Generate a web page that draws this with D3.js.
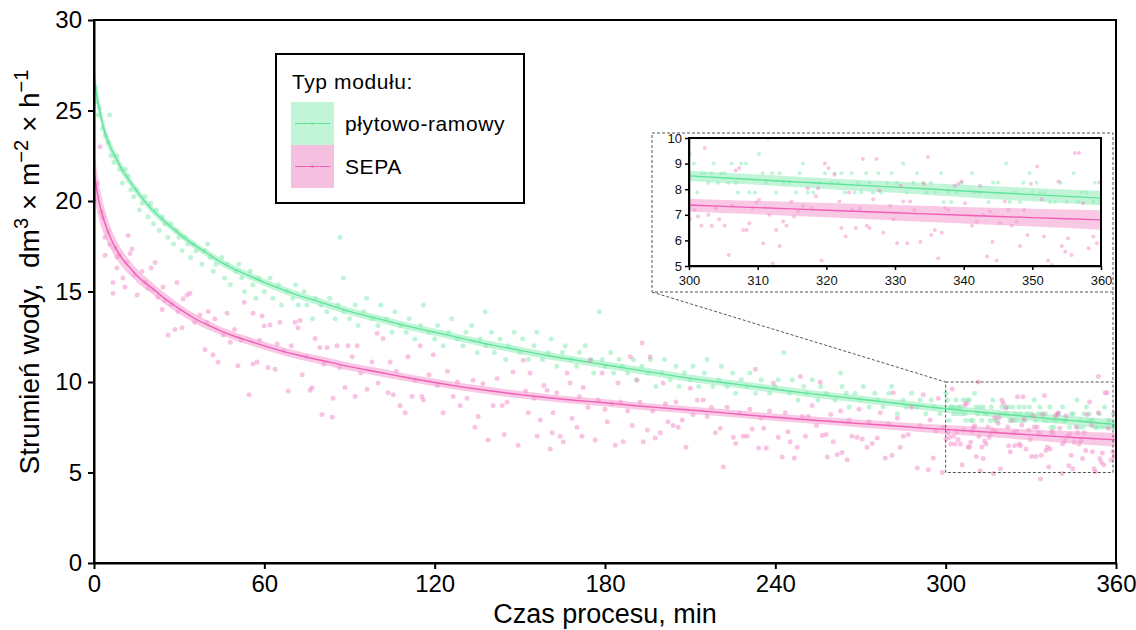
<!DOCTYPE html>
<html>
<head>
<meta charset="utf-8">
<script src="https://cdn.jsdelivr.net/npm/d3@7"></script>
<style>
  body { margin: 0; background: #fff; }
  text { font-family: "Liberation Sans", Arial, sans-serif; }
</style>
</head>
<body>
<div id="chart"></div>
<script>
// ---- data ----
const timeTicks = [0, 60, 120, 180, 240, 300, 360];
const fluxTicks = [0, 5, 10, 15, 20, 25, 30];
const insetTimeTicks = [300, 310, 320, 330, 340, 350, 360];
const insetFluxTicks = [5, 6, 7, 8, 9, 10];
const seriesNames = ["płytowo-ramowy", "SEPA"];

// fitted curves (sampled from the figure)
const fitTime = [0, 1, 2, 3, 4, 6, 8, 10, 13, 16, 20, 25, 30, 35, 40, 45, 50, 55, 60, 70, 80, 90, 100, 110, 120, 130, 140, 150, 160, 170, 180, 190, 200, 210, 220, 230, 240, 250, 260, 270, 280, 290, 300, 310, 320, 330, 340, 350, 360];
const plateFit = [26.9, 25.8, 25.0, 24.3, 23.7, 22.9, 22.3, 21.7, 21.0, 20.35, 19.6, 18.85, 18.2, 17.6, 17.1, 16.6, 16.2, 15.85, 15.5, 14.9, 14.4, 13.9, 13.5, 13.1, 12.75, 12.4, 12.05, 11.75, 11.45, 11.2, 10.95, 10.7, 10.45, 10.2, 10.0, 9.8, 9.6, 9.4, 9.22, 9.05, 8.87, 8.7, 8.52, 8.37, 8.22, 8.08, 7.93, 7.79, 7.65];
const plateBand = [0.7, 0.6, 0.5, 0.45, 0.4, 0.35, 0.3, 0.28, 0.25, 0.23, 0.22, 0.2, 0.2, 0.2, 0.2, 0.2, 0.2, 0.2, 0.2, 0.2, 0.2, 0.2, 0.2, 0.2, 0.2, 0.2, 0.2, 0.2, 0.2, 0.2, 0.2, 0.2, 0.2, 0.2, 0.2, 0.2, 0.2, 0.2, 0.2, 0.2, 0.2, 0.2, 0.2, 0.2, 0.21, 0.22, 0.24, 0.26, 0.28];
const sepaFit = [21.6, 20.6, 19.8, 19.2, 18.7, 17.9, 17.3, 16.8, 16.25, 15.75, 15.25, 14.6, 14.05, 13.55, 13.15, 12.8, 12.5, 12.25, 12.0, 11.55, 11.2, 10.85, 10.55, 10.25, 9.97, 9.72, 9.5, 9.3, 9.13, 8.98, 8.85, 8.7, 8.57, 8.45, 8.32, 8.18, 8.05, 7.93, 7.82, 7.7, 7.6, 7.48, 7.38, 7.28, 7.18, 7.08, 6.98, 6.89, 6.8];
const sepaBand = [1.3, 1.1, 0.95, 0.85, 0.75, 0.6, 0.52, 0.46, 0.4, 0.36, 0.32, 0.3, 0.28, 0.26, 0.25, 0.22, 0.22, 0.22, 0.22, 0.22, 0.22, 0.22, 0.22, 0.21, 0.21, 0.21, 0.21, 0.2, 0.2, 0.2, 0.2, 0.2, 0.2, 0.2, 0.2, 0.2, 0.2, 0.2, 0.2, 0.21, 0.22, 0.23, 0.25, 0.26, 0.28, 0.3, 0.32, 0.35, 0.38];

// measured points [time, flux]
const plateScatter = [
  [0.5,26.25],[1,25.5],[1.5,24.75],[2,25.125],[3,24.0],[4,23.625],[5,23.25],[5.5,24.75],[6,22.5],[7,22.125],[8,22.5],[9,21.75],[10,21.0],[11,21.75],[12,21.375],[13,20.625],[14,20.25],[15,20.625],[16,19.5],[17,19.875],[18,20.25],[19,19.125],[20,19.875],[21,18.75],[22,19.5],[23,18.375],[24,19.125],[25,18.75],[26,18.0],[27,18.75],[28,17.625],[29,18.375],[30,18.0],[31,17.25],[32,18.0],[33,17.625],[34,16.875],[35,17.625],[36,17.25],[38,16.5],[39,17.25],[40,17.625],[41,16.875],[42,16.125],[43,16.5],[45,16.875],[46,15.75],[47,16.5],[48,15.375],[50,16.125],[51,16.5],[52,15.75],[53,15.0],[55,16.125],[56,15.375],[57,14.625],[58,15.75],[60,15.0],[62,15.75],[63,14.625],[65,15.375],[66,14.25],[68,15.0],[70,14.625],[71,15.375],[72,14.25],[74,15.0],[75,14.25],[77,13.5],[78,14.625],[80,14.25],[82,13.875],[83,14.625],[85,13.5],[86,14.25],[86.7,18.0],[87.8,15.75],[88,13.875],[90,13.5],[92,14.25],[93,13.125],[95,13.875],[96,14.625],[98,13.5],[100,13.125],[101,14.25],[103,13.5],[105,12.75],[106,13.875],[108,13.125],[110,12.75],[111,13.5],[113,12.375],[115,13.125],[116,14.25],[118,12.75],[120,12.375],[121,13.125],[123,12.0],[125,12.75],[126,13.5],[128,12.375],[130,12.0],[131,12.75],[133,13.125],[135,11.625],[136,12.375],[137.8,13.875],[138,12.0],[140,12.75],[141,11.625],[143,12.375],[145,11.25],[146,12.0],[148,12.75],[150,11.625],[151,12.375],[153,11.25],[155,12.0],[156,12.75],[158,11.25],[160,11.625],[161,12.375],[163,10.875],[165,11.625],[166,12.0],[168,11.25],[170,10.875],[171,11.625],[173,12.0],[175,11.25],[176,10.5],[178,13.875],[179,11.25],[180,10.875],[182,11.625],[183,10.5],[185,11.25],[186,10.875],[188,10.5],[190,11.25],[191,10.125],[193,10.875],[195,10.5],[196,11.25],[198,9.75],[200,10.5],[201,11.25],[203,10.125],[205,10.875],[206,9.75],[208,10.5],[210,10.125],[211,10.875],[213,9.75],[215,10.5],[216,11.25],[218,9.75],[220,10.125],[221,10.875],[223,9.75],[225,10.5],[226,9.375],[228,10.125],[230,9.75],[231,10.5],[233,9.375],[235,10.125],[238,9.375],[240,9.75],[241,10.125],[243,11.625],[245,9.375],[246,10.125],[248,9.0],[250,9.75],[251,9.375],[253,10.125],[255,9.0],[256,9.75],[258,9.375],[261,9.0],[263,10.5],[263.5,9.75],[265,9.375],[266,8.625],[268,9.375],[270,9.0],[271,9.75],[273,8.625],[275,9.375],[276,9.0],[278,8.625],[280,9.375],[281,9.75],[283,8.25],[285,9.0],[286,8.625],[288,9.375],[290,8.625],[291,9.0],[293,8.25],[295,9.0],[296,8.625],[298,8.25],
  [300.1,9.375],[300.7,9.0],[301.2,7.875],[301.8,8.625],[302.3,8.625],[302.8,8.25],[303.3,8.625],[303.6,9.0],[304.2,8.25],[304.7,8.625],[305.2,8.625],[305.7,8.25],[306.2,9.0],[306.8,8.25],[307.1,7.875],[307.6,9.0],[308.3,9.0],[308.8,7.875],[309.6,7.875],[310.2,9.375],[310.7,8.625],[311.2,8.25],[312.1,8.625],[312.7,7.875],[313.2,8.625],[313.8,8.25],[314.6,8.25],[315.6,7.875],[316.1,8.625],[316.6,9.0],[317.3,7.875],[318.1,7.875],[319.0,8.25],[319.8,8.625],[320.7,8.25],[321.2,8.625],[321.7,8.25],[322.2,8.625],[322.7,7.875],[323.7,8.625],[324.1,7.875],[324.6,8.25],[325.1,7.875],[325.8,8.625],[326.3,8.25],[326.8,7.875],[327.6,8.625],[328.0,7.875],[328.8,8.25],[329.5,8.625],[330.2,8.25],[331.2,9.0],[331.7,7.875],[332.7,8.25],[333.2,8.625],[334.1,8.25],[334.6,7.875],[335.2,8.25],[335.8,7.875],[336.7,8.625],[337.1,7.5],[337.8,7.875],[338.2,7.5],[339.0,7.875],[339.7,8.25],[341.2,8.625],[341.6,7.875],[342.3,7.875],[343.6,7.5],[344.3,8.25],[345.0,8.25],[346.2,9.0],[346.7,7.5],[347.5,7.875],[348.2,7.5],[348.7,8.25],[349.6,8.625],[350.0,7.875],[350.6,8.25],[351.1,7.875],[351.8,7.875],[352.6,7.5],[353.3,7.5],[354.1,8.25],[355.0,7.5],[356.0,8.625],[356.7,7.5],[357.2,7.875],[357.9,7.875],[358.9,7.5],[359.1,8.25],[359.9,7.5]
];

const sepaScatter = [
  [0.4,20.1],[1.2,21.0],[2.1,23.0],[2.6,19.4],[3.2,19.1],[3.9,18.0],[3.9,17.0],[4.9,18.3],[5.6,17.6],[6.7,15.5],[6.7,14.9],[7.4,17.4],[8.1,16.9],[8.1,16.3],[9.0,17.0],[10.2,15.75],[10.9,15.25],[11.5,16.6],[12.0,18.1],[12.7,17.1],[13.4,17.35],[14.2,15.9],[15.2,14.8],[16.9,16.1],[18.0,15.5],[19.0,15.2],[20.1,16.3],[20.8,15.1],[21.5,16.6],[22.5,14.7],[24.0,14.0],[24.3,15.25],[25.0,14.5],[26.1,12.6],[27.3,14.3],[28.5,12.9],[29.2,15.5],[29.6,13.9],[31.0,13.0],[31.4,14.6],[32.8,14.8],[33.8,14.9],[35.5,13.3],[37.3,13.7],[39.1,11.8],[39.8,13.3],[40.2,13.9],[41.9,11.5],[42.6,13.5],[43.7,11.1],[45.5,12.6],[46.9,13.8],[48.0,12.2],[49.5,12.9],[50.7,10.9],[51.8,12.3],[52.9,14.4],[54.6,9.3],[56.0,11.0],[56.0,13.8],[57.4,11.1],[58.3,12.3],[59.2,13.65],[59.9,13.1],[61.3,10.8],[62.0,13.15],[63.8,10.7],[64.5,12.1],[65.5,13.3],[66.8,11.7],[68.4,9.5],[69.5,12.0],[70.8,13.3],[71.9,13.0],[72.6,13.4],[73.3,10.4],[74.8,11.4],[76.1,9.55],[76.8,9.7],[77.9,12.4],[79.6,11.9],[80.3,8.2],[81.0,11.0],[82.1,11.9],[83.9,8.05],[84.2,9.1],[85.6,12.0],[86.5,10.8],[88.4,9.7],[89.5,12.0],[90.9,11.4],[92.0,9.2],[92.7,12.0],[94.0,10.5],[96.2,9.6],[97.9,11.1],[99.7,12.7],[100.1,9.95],[101.8,12.4],[103.6,9.4],[104.3,11.1],[105.4,9.3],[106.5,10.6],[107.8,8.7],[109.6,8.3],[110.6,11.4],[112.0,9.2],[113.2,10.1],[114.9,12.0],[115.5,9.2],[116.0,9.0],[118.0,10.4],[119.5,11.5],[121.0,9.8],[123.0,8.3],[124.5,10.6],[126.5,9.2],[128.0,10.0],[129.0,8.7],[131.4,9.1],[133.5,10.1],[134.2,7.5],[135.3,8.1],[137.0,9.9],[138.8,6.8],[140.6,8.7],[142.0,10.2],[143.8,8.7],[144.5,7.1],[145.5,8.9],[147.6,10.55],[149.4,6.5],[151.2,11.2],[152.0,9.5],[153.0,8.3],[153.6,10.5],[155.0,9.1],[156.1,7.0],[157.2,7.9],[158.5,9.8],[159.6,9.55],[160.7,6.3],[161.4,7.2],[161.7,8.3],[163.0,9.4],[164.2,7.0],[165.3,6.7],[166.6,10.5],[167.7,9.95],[168.4,8.0],[170.1,7.5],[171.0,9.2],[171.9,7.0],[172.3,9.7],[174.0,8.6],[174.8,11.2],[176.5,6.8],[177.6,9.0],[179.0,10.5],[180.0,8.5],[180.8,7.8],[182.5,8.8],[183.6,6.5],[184.6,9.95],[185.5,8.9],[186.4,6.7],[188.0,8.4],[188.9,11.4],[189.6,7.6],[191.3,10.1],[192.3,8.9],[193.1,12.15],[193.5,6.7],[194.9,7.35],[195.9,11.4],[196.8,8.4],[197.7,6.9],[199.5,7.2],[200.5,9.95],[201.3,8.8],[202.2,7.8],[204.0,7.6],[205.0,8.9],[205.8,7.5],[207.2,7.9],[208.5,6.4],[210.0,9.65],[211.0,8.2],[212.5,9.0],[214.6,9.0],[216.0,8.1],[217.5,8.6],[218.9,7.2],[220.6,7.45],[221.7,5.3],[223.0,8.6],[225.2,6.95],[226.0,6.6],[227.5,8.3],[228.7,7.0],[230.1,7.0],[231.0,8.5],[231.9,7.4],[233.0,10.7],[234.1,6.35],[235.0,8.0],[235.9,7.45],[236.8,6.35],[238.0,8.4],[239.3,9.95],[241.0,6.95],[242.4,5.85],[243.5,8.3],[244.5,7.25],[245.2,6.7],[246.7,5.8],[247.7,6.4],[248.8,10.3],[249.5,8.1],[250.6,7.0],[251.6,8.1],[253.0,8.7],[254.5,7.6],[255.8,10.0],[256.5,7.05],[257.9,7.1],[258.3,5.85],[259.5,8.2],[260.4,6.7],[261.8,6.0],[263.0,8.4],[263.5,6.1],[265.3,5.7],[266.0,7.9],[267.0,7.0],[268.8,6.95],[269.5,8.5],[270.6,6.85],[272.3,6.4],[273.0,7.8],[274.1,6.6],[275.9,6.9],[277.0,8.3],[278.7,5.8],[280.0,7.7],[281.1,5.95],[281.5,9.4],[283.0,8.0],[284.0,6.4],[285.1,7.0],[286.8,7.1],[288.0,8.6],[290.0,5.25],[291.0,7.6],[292.1,9.3],[293.9,5.15],[294.5,7.9],[295.6,5.8],[296.5,7.3],[297.4,9.1],[298.8,5.0],[299.3,7.5],
  [300.1,6.84],[300.8,7.19],[301.3,6.93],[301.8,6.57],[302.3,9.61],[302.8,7.0],[303.3,6.57],[303.9,7.26],[304.4,6.83],[305.2,6.57],[305.8,5.43],[306.3,7.35],[306.8,8.73],[307.3,8.83],[307.9,6.41],[308.4,6.41],[308.8,6.67],[309.3,7.26],[309.8,7.48],[310.2,7.58],[310.8,5.89],[311.5,10.0],[311.7,7.0],[312.2,5.1],[312.7,6.41],[313.2,5.78],[313.7,6.74],[314.2,6.57],[314.9,7.52],[315.3,6.93],[315.9,7.13],[316.6,7.35],[316.8,4.95],[317.3,8.04],[317.8,7.26],[318.5,7.72],[318.8,8.04],[319.3,5.21],[319.8,9.0],[320.3,8.83],[321.2,8.56],[321.9,7.52],[322.2,6.48],[322.8,6.15],[323.3,7.87],[323.8,7.19],[324.3,6.48],[324.9,7.26],[325.3,9.18],[325.9,6.57],[326.3,6.48],[326.8,7.61],[327.3,9.18],[327.7,7.95],[328.3,6.3],[329.3,7.35],[329.8,6.83],[330.3,5.89],[330.8,8.13],[331.2,7.52],[331.8,5.89],[332.2,7.52],[332.8,7.19],[333.4,4.64],[333.7,5.95],[334.2,8.21],[334.8,9.26],[335.3,6.21],[335.8,6.41],[336.3,5.3],[336.8,6.3],[337.3,7.26],[337.8,7.19],[338.7,8.13],[339.2,8.21],[339.7,8.3],[340.2,7.45],[341.0,4.95],[341.2,6.57],[341.9,6.74],[342.4,8.13],[342.9,7.0],[343.4,5.37],[343.8,7.13],[344.2,5.95],[344.8,5.21],[345.3,6.67],[346.0,7.52],[346.5,7.19],[347.0,6.57],[347.7,6.74],[348.2,5.78],[348.8,7.19],[349.3,6.21],[349.8,8.21],[350.7,8.89],[351.4,7.61],[351.7,6.15],[352.3,5.21],[352.8,5.04],[353.8,8.3],[353.8,10.3],[354.3,5.78],[354.8,5.56],[355.2,6.08],[355.7,5.43],[356.2,9.41],[356.8,9.41],[357.4,7.45],[358.2,5.69],[358.9,6.15],[359.4,5.89],[359.8,8.26]
];

// ---- style ----
const colors = {
  plate: { dot: "#74e6a4", band: "#8fecb8", line: "#5fe49a", key: "#c2f4d8" },
  sepa:  { dot: "#f27cc4", band: "#f39ad0", line: "#f25db6", key: "#f5bfdf" }
};

const svg = d3.select("#chart")
  .append("svg")
  .attr("width", 1136)
  .attr("height", 630);

const x = d3.scaleLinear().domain([0, 360]).range([94, 1116]);
const y = d3.scaleLinear().domain([0, 30]).range([563, 20]);

const fitRows = (fit, band) => fitTime.map((t, i) => ({ t, v: fit[i], lo: fit[i] - band[i], hi: fit[i] + band[i] }));
const plateRows = fitRows(plateFit, plateBand);
const sepaRows = fitRows(sepaFit, sepaBand);

svg.append("clipPath").attr("id", "mainClip")
  .append("rect").attr("x", 94).attr("y", 20).attr("width", 1022).attr("height", 543);

function drawSeries(g, xs, ys, rows, points, c, r) {
  g.append("g").selectAll("circle")
    .data(points)
    .join("circle")
    .attr("cx", d => xs(d[0]))
    .attr("cy", d => ys(d[1]))
    .attr("r", r)
    .attr("fill", c.dot)
    .attr("fill-opacity", 0.45);

  g.append("path")
    .datum(rows)
    .attr("fill", c.band)
    .attr("fill-opacity", 0.55)
    .attr("d", d3.area().x(d => xs(d.t)).y0(d => ys(d.lo)).y1(d => ys(d.hi)).curve(d3.curveMonotoneX));

  g.append("path")
    .datum(rows)
    .attr("fill", "none")
    .attr("stroke", c.line)
    .attr("stroke-width", 1.4)
    .attr("d", d3.line().x(d => xs(d.t)).y(d => ys(d.v)).curve(d3.curveMonotoneX));
}

const plotArea = svg.append("g").attr("clip-path", "url(#mainClip)");
drawSeries(plotArea, x, y, plateRows, plateScatter, colors.plate, 2.5);
drawSeries(plotArea, x, y, sepaRows, sepaScatter, colors.sepa, 2.5);

// axes
const xAxis = svg.append("g")
  .attr("transform", "translate(0,563)")
  .call(d3.axisBottom(x).tickValues(timeTicks).tickSize(6).tickSizeOuter(0).tickPadding(6));
const yAxis = svg.append("g")
  .attr("transform", "translate(94,0)")
  .call(d3.axisLeft(y).tickValues(fluxTicks).tickSize(6).tickSizeOuter(0).tickPadding(6));
[xAxis, yAxis].forEach(a => {
  a.selectAll("path, line").attr("stroke", "#000").attr("stroke-width", 2);
  a.selectAll("text").attr("font-size", 24).attr("fill", "#000")
    .style("font-family", '"Liberation Sans", Arial, sans-serif');
});

svg.append("rect")
  .attr("x", 94).attr("y", 20).attr("width", 1022).attr("height", 543)
  .attr("fill", "none").attr("stroke", "#000").attr("stroke-width", 2);

svg.append("text")
  .attr("x", 605).attr("y", 623)
  .attr("text-anchor", "middle")
  .attr("font-size", 27)
  .text("Czas procesu, min");

const yTitle = svg.append("text")
  .attr("transform", "translate(39,272) rotate(-90)")
  .attr("text-anchor", "middle")
  .attr("font-size", 28);
yTitle.append("tspan").text("Strumień wody,\u00a0\u00a0dm");
yTitle.append("tspan").attr("baseline-shift", "super").attr("font-size", 20).text("3");
yTitle.append("tspan").text("\u00a0\u00d7\u00a0m");
yTitle.append("tspan").attr("baseline-shift", "super").attr("font-size", 20).text("\u22122");
yTitle.append("tspan").text("\u00a0\u00d7\u00a0h");
yTitle.append("tspan").attr("baseline-shift", "super").attr("font-size", 20).text("\u22121");

// zoom marker on main plot + connectors
const dash = "3,2";
svg.append("rect")
  .attr("x", x(300)).attr("y", y(10))
  .attr("width", x(360) - x(300) - 3).attr("height", y(5) - y(10))
  .attr("fill", "none").attr("stroke", "#555").attr("stroke-width", 1).attr("stroke-dasharray", dash);
svg.append("line")
  .attr("x1", 652).attr("y1", 292).attr("x2", x(300)).attr("y2", y(10))
  .attr("stroke", "#555").attr("stroke-dasharray", dash);
svg.append("line")
  .attr("x1", 1113).attr("y1", 292).attr("x2", x(360) - 3).attr("y2", y(10))
  .attr("stroke", "#555").attr("stroke-dasharray", dash);

// inset
svg.append("rect")
  .attr("x", 652).attr("y", 133).attr("width", 461).attr("height", 159)
  .attr("fill", "#fff").attr("stroke", "#555").attr("stroke-dasharray", dash);

const xi = d3.scaleLinear().domain([300, 360]).range([689, 1101]);
const yi = d3.scaleLinear().domain([5, 10]).range([266, 138]);

svg.append("clipPath").attr("id", "insetClip")
  .append("rect").attr("x", 689).attr("y", 138).attr("width", 412).attr("height", 128);

const insetArea = svg.append("g").attr("clip-path", "url(#insetClip)");
drawSeries(insetArea, xi, yi, plateRows, plateScatter, colors.plate, 2);
drawSeries(insetArea, xi, yi, sepaRows, sepaScatter, colors.sepa, 2);

const xiAxis = svg.append("g")
  .attr("transform", "translate(0,266)")
  .call(d3.axisBottom(xi).tickValues(insetTimeTicks).tickFormat(d3.format("d")).tickSize(4).tickSizeOuter(0).tickPadding(6));
const yiAxis = svg.append("g")
  .attr("transform", "translate(689,0)")
  .call(d3.axisLeft(yi).tickValues(insetFluxTicks).tickFormat(d3.format("d")).tickSize(4).tickSizeOuter(0).tickPadding(3));
[xiAxis, yiAxis].forEach(a => {
  a.selectAll("path, line").attr("stroke", "#000").attr("stroke-width", 1.5);
  a.selectAll("text").attr("font-size", 13).attr("fill", "#111")
    .style("font-family", '"Liberation Sans", Arial, sans-serif');
});
svg.append("rect")
  .attr("x", 689).attr("y", 138).attr("width", 412).attr("height", 128)
  .attr("fill", "none").attr("stroke", "#000").attr("stroke-width", 2);

// legend
const legend = svg.append("g");
legend.append("rect")
  .attr("x", 276).attr("y", 54).attr("width", 248).attr("height", 149)
  .attr("fill", "#fff").attr("stroke", "#000").attr("stroke-width", 2);
legend.append("text")
  .attr("x", 292).attr("y", 89)
  .attr("font-size", 21)
  .attr("letter-spacing", 0.6)
  .text("Typ modułu:");
const legendColors = [colors.plate, colors.sepa];
seriesNames.forEach((name, i) => {
  const top = 102 + i * 43;
  const c = legendColors[i];
  legend.append("rect")
    .attr("x", 291).attr("y", top).attr("width", 43).attr("height", 43)
    .attr("fill", c.key);
  legend.append("line")
    .attr("x1", 295).attr("x2", 330).attr("y1", top + 21.5).attr("y2", top + 21.5)
    .attr("stroke", c.line).attr("stroke-width", 1.2);
  legend.append("circle")
    .attr("cx", 312.5).attr("cy", top + 21.5).attr("r", 1.5)
    .attr("fill", c.line).attr("fill-opacity", 0.6);
  legend.append("text")
    .attr("x", 345).attr("y", top + 29)
    .attr("font-size", 21)
    .attr("letter-spacing", 0.6)
    .text(name);
});
</script>
</body>
</html>
